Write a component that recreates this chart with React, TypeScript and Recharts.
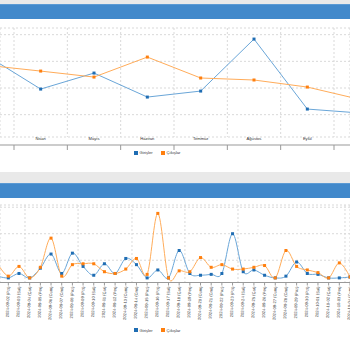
import React from "react";
import { LineChart, Line, XAxis, YAxis, CartesianGrid, Legend } from "recharts";

// aylık özet (üst grafik)
const aylar = ["Mart", "Nisan", "Mayıs", "Haziran", "Temmuz", "Ağustos", "Eylül", "Ekim"];
const aylikGiris = [540, 292, 412, 232, 277, 667, 142, 112];
const aylikCikis = [470, 427, 382, 532, 375, 360, 307, 213];
const aylikEksen = [0, 100, 200, 300, 400, 500, 600, 700];
const aySinirlari = [0.5, 1.5, 2.5, 3.5, 4.5, 5.5, 6.5];
const ayEtiketleri = [1, 2, 3, 4, 5, 6];

// günlük hareketler (alt grafik)
const gunler = [
  "2024-09-01 (Paz)", "2024-09-02 (Pzt)", "2024-09-03 (Sal)", "2024-09-04 (Çar)",
  "2024-09-05 (Per)", "2024-09-06 (Cum)", "2024-09-07 (Cmt)", "2024-09-08 (Paz)",
  "2024-09-09 (Pzt)", "2024-09-10 (Sal)", "2024-09-11 (Çar)", "2024-09-12 (Per)",
  "2024-09-13 (Cum)", "2024-09-14 (Cmt)", "2024-09-15 (Paz)", "2024-09-16 (Pzt)",
  "2024-09-17 (Sal)", "2024-09-18 (Çar)", "2024-09-19 (Per)", "2024-09-20 (Cum)",
  "2024-09-21 (Cmt)", "2024-09-22 (Paz)", "2024-09-23 (Pzt)", "2024-09-24 (Sal)",
  "2024-09-25 (Çar)", "2024-09-26 (Per)", "2024-09-27 (Cum)", "2024-09-28 (Cmt)",
  "2024-09-29 (Paz)", "2024-09-30 (Pzt)", "2024-10-01 (Sal)", "2024-10-02 (Çar)",
  "2024-10-03 (Per)", "2024-10-04 (Cum)",
];
const gunlukGiris = [2, 0, 5, 0, 11, 27, 5, 28, 13, 3, 16, 5, 22, 15, 0, 9, 0, 31, 5, 3, 4, 5, 50, 7, 9, 3, 0, 2, 18, 5, 4, 0, 0, 1];
const gunlukCikis = [16, 2, 13, 0, 12, 45, 2, 15, 16, 16, 7, 5, 10, 22, 4, 73, 0, 8, 7, 23, 12, 15, 10, 10, 12, 14, 0, 31, 13, 9, 6, 0, 17, 1];
const gunlukEksen = [0, 10, 20, 30, 40, 50, 60, 70, 80];
const gunIzgara = [1.56, 6.53, 11.58, 16.54, 21.51, 26.56, 31.53];
const gunEtiketleri = gunler.map((_, j) => j - 1).filter((v) => v >= 0);

const aylikVeri = aylar.map((ad, i) => ({ i, ad, giris: aylikGiris[i], cikis: aylikCikis[i] }));
const gunlukVeri = gunler.map((g, j) => ({ i: j - 1, g, giris: gunlukGiris[j], cikis: gunlukCikis[j] }));

const MAVI_CIZGI = "#6aa6d8";
const MAVI_NOKTA = "#1f6db3";
const TURUNCU_CIZGI = "#ffac5a";
const TURUNCU_NOKTA = "#ff7f0e";
const noktaRenk: Record<string, string> = { "Girişler": MAVI_NOKTA, "Çıkışlar": TURUNCU_NOKTA };

// cardinal spline (d3 curveCardinal, tension 0) - the original chart overshoots a bit around peaks
function cardinal(context: any) {
  const k = 1 / 6;
  let x0 = NaN, x1 = NaN, x2 = NaN, y0 = NaN, y1 = NaN, y2 = NaN, n = 0;
  const seg = (x: number, y: number) =>
    context.bezierCurveTo(x1 + k * (x2 - x0), y1 + k * (y2 - y0), x2 + k * (x1 - x), y2 + k * (y1 - y), x2, y2);
  return {
    areaStart() {},
    areaEnd() {},
    lineStart() {
      x0 = x1 = x2 = y0 = y1 = y2 = NaN;
      n = 0;
    },
    lineEnd() {
      if (n === 2) context.lineTo(x2, y2);
      else if (n === 3) seg(x1, y1);
    },
    point(x: number, y: number) {
      x = +x;
      y = +y;
      if (n === 0) {
        n = 1;
        context.moveTo(x, y);
      } else if (n === 1) {
        n = 2;
        x1 = x;
        y1 = y;
      } else {
        n = 3;
        seg(x, y);
      }
      x0 = x1; x1 = x2; x2 = x;
      y0 = y1; y1 = y2; y2 = y;
    },
  };
}

const kareNokta = (fill: string) => (p: any) =>
  p.cx == null ? <g key={`${fill}-${p.index}`} /> : (
    <rect key={`${fill}-${p.index}`} x={p.cx - 1.5} y={p.cy - 1.5} width={3} height={3} fill={fill} />
  );

const Lejant = ({ payload }: any) => (
  <div style={{ display: "flex", justifyContent: "center", gap: 8, fontSize: 4.1, lineHeight: "5px", color: "#333" }}>
    {(payload || []).map((e: any) => (
      <span key={e.value} style={{ display: "flex", alignItems: "center", gap: 2 }}>
        <span style={{ width: 4, height: 4, background: noktaRenk[e.value] }} />
        <span>{e.value}</span>
      </span>
    ))}
  </div>
);

const TarihEtiketi = ({ x, y, payload }: any) => (
  <text x={x} y={y} transform={`rotate(-88 ${x} ${y})`} textAnchor="end" dy="0.35em" fontSize={4.1} fill="#444">
    {gunler[payload.value + 1]}
  </text>
);

const Baslik = ({ top }: { top: number }) => (
  <div style={{ position: "absolute", left: 0, top, width: 350, height: 15, background: "#4289cb", borderTop: "1px solid #5b9ad4", boxSizing: "border-box" }} />
);

export default function App() {
  return (
    <div style={{ position: "relative", width: 350, height: 350, background: "#e9e9e9", overflow: "hidden", fontFamily: "'Liberation Sans', Arial, sans-serif" }}>
      <style>{"body{margin:0}"}</style>
      <Baslik top={4} />
      <div style={{ position: "absolute", left: 0, top: 19, width: 350, height: 153, background: "#fff" }}>
        <LineChart width={350} height={153} data={aylikVeri} margin={{ top: 9, right: 0, bottom: 14, left: 0 }}>
          <YAxis hide type="number" domain={[-67.5, 750]} ticks={aylikEksen} allowDataOverflow />
          <CartesianGrid xAxisId="t" stroke="#d9d9d9" strokeDasharray="2 2" />
          <XAxis xAxisId="t" dataKey="i" type="number" domain={[0.2375, 6.8]} allowDataOverflow ticks={aySinirlari} interval={0}
            tickFormatter={() => ""} tickSize={5} height={5} stroke="#999" />
          <XAxis xAxisId="l" dataKey="i" type="number" domain={[0.2375, 6.8]} allowDataOverflow ticks={ayEtiketleri} interval={0}
            tickFormatter={(v: number) => aylar[v]} tickLine={false} axisLine={false} tickSize={0} tickMargin={0} height={8}
            tick={{ fontSize: 4.1, fill: "#333" }} />
          <Legend verticalAlign="bottom" height={8} content={<Lejant />} wrapperStyle={{ left: -18 }} />
          <Line xAxisId="t" type="linear" dataKey="giris" name="Girişler" stroke={MAVI_CIZGI} strokeWidth={1}
            dot={kareNokta(MAVI_NOKTA)} activeDot={false} isAnimationActive={false} />
          <Line xAxisId="t" type="linear" dataKey="cikis" name="Çıkışlar" stroke={TURUNCU_CIZGI} strokeWidth={1}
            dot={kareNokta(TURUNCU_NOKTA)} activeDot={false} isAnimationActive={false} />
        </LineChart>
      </div>
      <Baslik top={183} />
      <div style={{ position: "absolute", left: 0, top: 198, width: 350, height: 152, background: "#fff" }}>
        <LineChart width={350} height={152} data={gunlukVeri} margin={{ top: 7, right: 0, bottom: 14.5, left: 0 }}>
          <YAxis hide type="number" domain={[-5.2, 82.5]} ticks={gunlukEksen} allowDataOverflow />
          <CartesianGrid xAxisId="g" stroke="#d9d9d9" strokeDasharray="2 2" />
          <XAxis xAxisId="d" dataKey="i" type="number" domain={[-0.78, 32]} allowDataOverflow ticks={gunEtiketleri} interval={0}
            tick={<TarihEtiketi />} tickSize={3} tickMargin={1} height={45} stroke="#999" />
          <XAxis xAxisId="g" dataKey="i" type="number" domain={[-0.78, 32]} allowDataOverflow ticks={gunIzgara} hide />
          <Legend verticalAlign="bottom" height={8} content={<Lejant />} wrapperStyle={{ left: -18 }} />
          <Line xAxisId="d" type={cardinal as any} dataKey="giris" name="Girişler" stroke={MAVI_CIZGI} strokeWidth={1}
            dot={kareNokta(MAVI_NOKTA)} activeDot={false} isAnimationActive={false} />
          <Line xAxisId="d" type={cardinal as any} dataKey="cikis" name="Çıkışlar" stroke={TURUNCU_CIZGI} strokeWidth={1}
            dot={kareNokta(TURUNCU_NOKTA)} activeDot={false} isAnimationActive={false} />
        </LineChart>
      </div>
    </div>
  );
}
